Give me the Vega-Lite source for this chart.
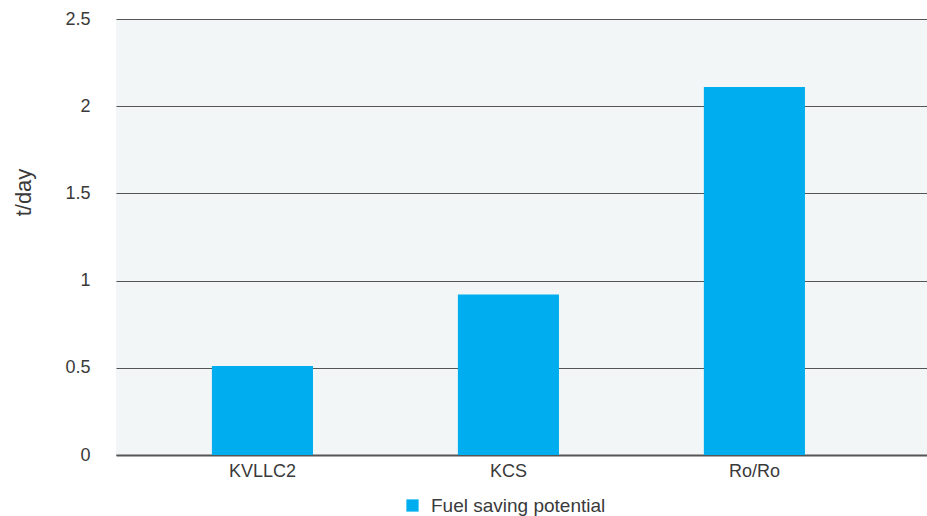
{
  "$schema": "https://vega.github.io/schema/vega-lite/v6.json",
  "width": 811,
  "height": 436,
  "autosize": {"type": "none"},
  "padding": {"left": 116, "top": 19, "right": 0, "bottom": 61},
  "background": "#ffffff",
  "data": {
    "values": [
      {"vessel": "KVLLC2", "saving": 0.51, "series": "Fuel saving potential"},
      {"vessel": "KCS", "saving": 0.92, "series": "Fuel saving potential"},
      {"vessel": "Ro/Ro", "saving": 2.11, "series": "Fuel saving potential"}
    ]
  },
  "mark": {"type": "bar"},
  "encoding": {
    "x": {
      "field": "vessel",
      "type": "nominal",
      "sort": null,
      "scale": {"paddingInner": 0.589, "paddingOuter": 0.443, "align": 0.44},
      "axis": {
        "title": null,
        "labelAngle": 0,
        "ticks": false,
        "domain": true,
        "domainColor": "#555555",
        "domainWidth": 2,
        "labelPadding": 7,
        "labelFontSize": 18,
        "labelFont": "Liberation Sans",
        "labelColor": "#3a3a3a"
      }
    },
    "y": {
      "field": "saving",
      "type": "quantitative",
      "scale": {"domain": [0, 2.5]},
      "axis": {
        "title": "t/day",
        "titleFont": "Liberation Sans",
        "titleFontSize": 22,
        "titleFontWeight": "normal",
        "titleColor": "#3a3a3a",
        "titleX": -93,
        "titleY": 173,
        "titleAlign": "center",
        "titleBaseline": "middle",
        "values": [0, 0.5, 1, 1.5, 2, 2.5],
        "format": "~g",
        "ticks": false,
        "domain": false,
        "grid": true,
        "gridColor": "#555555",
        "gridWidth": 1.2,
        "labelPadding": 26,
        "labelFontSize": 18,
        "labelFont": "Liberation Sans",
        "labelColor": "#3a3a3a"
      }
    },
    "color": {
      "field": "series",
      "type": "nominal",
      "scale": {"range": ["#00aeef"]},
      "legend": {
        "title": null,
        "orient": "none",
        "legendX": 287,
        "legendY": 477,
        "symbolType": "square",
        "symbolSize": 150,
        "symbolStrokeWidth": 0,
        "symbolOpacity": 1,
        "labelFontSize": 19,
        "labelFont": "Liberation Sans",
        "labelColor": "#3a3a3a",
        "labelOffset": 9,
        "labelLimit": 400
      }
    }
  },
  "config": {
    "view": {"fill": "#f3f6f7", "stroke": null},
    "axisY": {"zindex": 0}
  }
}
